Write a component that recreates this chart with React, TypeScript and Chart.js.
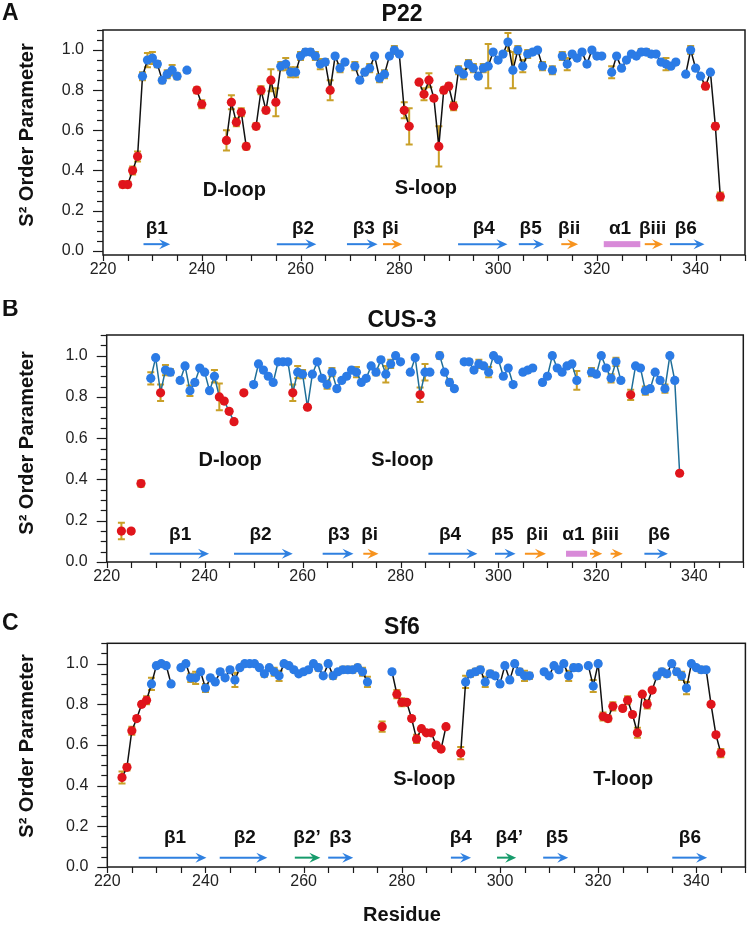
import React, { useEffect, useRef } from 'react';
import { Chart, registerables } from 'chart.js';

Chart.register(...registerables);

const FONT = '"Liberation Sans", Arial, Helvetica, sans-serif';

// ---------- shared axis data ----------
const X_MIN = 220;
const X_MAX = 350;
const X_LABEL_TICKS = [220, 240, 260, 280, 300, 320, 340];
const X_MINOR_STEP = 5;
const Y_LABEL_TICKS = [0, 0.2, 0.4, 0.6, 0.8, 1.0];
const Y_MINOR_STEP = 0.05;
const Y_MAX = 1.1;

// ---------- Panel A : P22 ----------
const P22_START = 224;
const P22_S2 = [
  0.33, 0.33, 0.40, 0.47, 0.87, 0.95, 0.96, 0.93, 0.85, 0.88, 0.90, 0.87, null, 0.90, null, 0.80, 0.73, // 224-240
  null, null, null, null, 0.55, 0.74, 0.64, 0.69, 0.52, null, // 241-250
  0.62, 0.80, 0.70, 0.85, 0.74, 0.92, 0.93, 0.89, 0.89, 0.97, // 251-260
  0.99, 0.99, 0.97, 0.93, 0.94, 0.80, 0.97, 0.91, 0.94, null, // 261-270
  0.92, 0.85, 0.89, 0.91, 0.97, 0.86, 0.88, 0.97, 1.00, 0.98, // 271-280
  0.70, 0.62, null, 0.84, 0.78, 0.85, 0.76, 0.52, 0.80, 0.82, // 281-290
  0.72, 0.90, 0.88, 0.93, 0.91, 0.87, 0.91, 0.92, 0.99, 0.95, // 291-300
  0.98, 1.04, 0.90, 1.00, 0.92, 0.98, 0.99, 1.00, 0.92, null, // 301-310
  0.90, null, 0.97, 0.93, 0.98, 0.96, 0.99, 0.93, 1.00, 0.97, // 311-320
  0.97, null, 0.89, 0.97, 0.91, 0.95, 0.98, 0.97, 0.99, 0.99, // 321-330
  0.98, 0.98, 0.94, 0.93, 0.92, 0.94, null, 0.88, 1.00, 0.91, // 331-340
  0.87, 0.82, 0.89, 0.62, 0.27, // 341-345
];
const P22_ERR = [
  0.015, 0.015, 0.02, 0.025, 0.02, 0.035, 0.03, 0.015, 0.015, 0.02, 0.025, 0.015, 0, 0.01, 0, 0.015, 0.02,
  0, 0, 0, 0, 0.05, 0.035, 0.02, 0.02, 0.015, 0,
  0.015, 0.02, 0.015, 0.055, 0.07, 0.02, 0.03, 0.025, 0.025, 0.02,
  0.015, 0.015, 0.02, 0.025, 0.015, 0.05, 0.01, 0.02, 0.01, 0,
  0.02, 0.01, 0.015, 0.02, 0.01, 0.02, 0.02, 0.01, 0.02, 0.01,
  0.04, 0.09, 0, 0.01, 0.03, 0.035, 0.01, 0.1, 0.015, 0.015,
  0.02, 0.02, 0.025, 0.02, 0.02, 0.01, 0.02, 0.11, 0.01, 0.01,
  0.01, 0.045, 0.09, 0.02, 0.03, 0.02, 0.01, 0.01, 0.02, 0,
  0.02, 0, 0.02, 0.03, 0.01, 0.01, 0.01, 0.01, 0.01, 0.01,
  0.01, 0, 0.03, 0.01, 0.01, 0.01, 0.01, 0.01, 0.015, 0.015,
  0.015, 0.01, 0.01, 0.03, 0.01, 0.01, 0, 0.01, 0.02, 0.01,
  0.01, 0.015, 0.01, 0.015, 0.02,
];
const P22_FLEX = [224, 225, 226, 227, 239, 240, 245, 246, 247, 248, 249, 251, 252, 253, 254, 255, 266,
  281, 282, 284, 285, 286, 287, 288, 289, 290, 291, 342, 344, 345];
const P22_SS = [
  ['β1', 228.2, 233.6, 'core', 230.9],
  ['β2', 255.2, 263.2, 'core', 260.5],
  ['β3', 269.4, 275.6, 'core', 272.8],
  ['βi', 276.7, 280.6, 'insert', 278.2],
  ['β4', 291.9, 301.9, 'core', 297.1],
  ['β5', 304.2, 309.3, 'core', 306.6],
  ['βii', 312.8, 316.2, 'insert', 314.4],
  ['α1', 321.4, 328.8, 'helix', 324.7],
  ['βiii', 329.7, 333.4, 'insert', 331.3],
  ['β6', 334.8, 341.8, 'core', 338.0],
];
const P22_LOOPS = [['D-loop', 246.6, 0.30], ['S-loop', 285.4, 0.31]];

// ---------- Panel B : CUS-3 ----------
const CUS3_START = 223;
const CUS3_S2 = [
  0.15, null, 0.15, null, 0.38, null, 0.89, 0.99, // 223-230
  0.82, 0.93, 0.92, null, 0.88, 0.95, 0.83, 0.87, 0.94, 0.92, // 231-240
  0.83, 0.90, 0.80, 0.78, 0.73, 0.68, null, 0.82, null, 0.86, // 241-250
  0.96, 0.93, 0.90, 0.87, 0.97, 0.97, 0.97, 0.82, 0.92, 0.91, // 251-260
  0.75, 0.91, 0.97, 0.89, 0.86, 0.92, 0.84, 0.88, 0.90, 0.93, // 261-270
  0.92, 0.87, 0.89, 0.95, 0.92, 0.98, 0.91, 0.96, 1.00, 0.97, // 271-280
  null, 0.92, 0.99, 0.81, 0.92, 0.92, null, 1.00, 0.92, 0.87, // 281-290
  0.84, null, 0.97, 0.97, 0.93, 0.96, 0.95, 0.92, 1.00, 0.98, // 291-300
  0.90, 0.94, 0.86, null, 0.92, 0.93, 0.94, null, 0.87, 0.90, // 301-310
  1.00, 0.94, 0.92, 0.95, 0.96, 0.88, null, null, 0.92, 0.91, // 311-320
  1.00, 0.94, 0.89, 0.97, 0.88, null, 0.81, 0.95, 0.94, 0.83, // 321-330
  0.84, 0.92, 0.88, 0.84, 1.00, 0.88, 0.43, // 331-337
];
const CUS3_ERR = [
  0.04, 0, 0.01, 0, 0.015, 0, 0.03, 0.01,
  0.04, 0.025, 0.015, 0, 0.01, 0.01, 0.025, 0.01, 0.01, 0.01,
  0.01, 0.03, 0.065, 0.01, 0.01, 0.01, 0, 0.01, 0, 0.01,
  0.01, 0.01, 0.01, 0.01, 0.01, 0.01, 0.01, 0.04, 0.03, 0.02,
  0.01, 0.01, 0.01, 0.01, 0.02, 0.02, 0.01, 0.01, 0.01, 0.01,
  0.025, 0.01, 0.01, 0.01, 0.015, 0.01, 0.04, 0.02, 0.01, 0.01,
  0, 0.01, 0.01, 0.035, 0.04, 0.01, 0, 0.015, 0.01, 0.015,
  0.01, 0, 0.01, 0.01, 0.01, 0.02, 0.01, 0.025, 0.01, 0.01,
  0.01, 0.01, 0.01, 0, 0.01, 0.01, 0.01, 0, 0.01, 0.01,
  0.01, 0.01, 0.01, 0.01, 0.01, 0.045, 0, 0, 0.02, 0.01,
  0.01, 0.01, 0.02, 0.02, 0.01, 0, 0.025, 0.01, 0.01, 0.02,
  0.01, 0.01, 0.01, 0.02, 0.01, 0.01, 0.01,
];
const CUS3_FLEX = [223, 225, 227, 231, 243, 244, 245, 246, 248, 258, 261, 284, 327, 337];
const CUS3_SS = [
  ['β1', 228.8, 240.9, 'core', 235.0],
  ['β2', 246.0, 258.0, 'core', 251.4],
  ['β3', 264.1, 270.4, 'core', 267.4],
  ['βi', 272.4, 275.5, 'insert', 273.7],
  ['β4', 285.7, 295.7, 'core', 290.1],
  ['β5', 299.3, 303.5, 'core', 300.8],
  ['βii', 305.4, 309.7, 'insert', 307.9],
  ['α1', 313.8, 318.1, 'helix', 315.3],
  ['βiii', 318.7, 321.2, 'insert', 321.8],
  ['', 322.9, 325.4, 'insert', 0],
  ['β6', 329.8, 334.6, 'core', 332.8],
];
const CUS3_LOOPS = [['D-loop', 245.2, 0.49], ['S-loop', 280.4, 0.49]];

// ---------- Panel C : Sf6 ----------
const SF6_START = 223;
const SF6_S2 = [
  0.44, 0.49, 0.67, 0.73, 0.80, 0.82, 0.90, 0.99, // 223-230
  1.00, 0.99, 0.90, null, 0.98, 1.00, 0.93, 0.93, 0.96, 0.88, // 231-240
  0.93, 0.91, 0.96, 0.93, 0.97, 0.92, 0.98, 1.00, 1.00, 1.00, // 241-250
  0.98, 0.95, 0.98, 0.96, 0.94, 1.00, 0.99, 0.97, 0.95, 0.96, // 251-260
  0.97, 1.00, 0.98, 0.94, 1.00, 0.94, 0.96, 0.97, 0.97, 0.97, // 261-270
  0.98, 0.96, 0.91, null, null, 0.69, null, 0.96, 0.85, 0.81, // 271-280
  0.81, 0.73, 0.63, 0.68, 0.66, 0.66, 0.60, 0.58, 0.69, null, // 281-290
  null, 0.56, 0.91, 0.95, 0.96, 0.97, 0.91, 0.95, 0.94, 0.90, // 291-300
  0.99, 0.92, 1.00, 0.96, 0.94, 0.94, null, null, 0.96, 0.94, // 301-310
  0.99, 0.97, 1.00, 0.94, 0.98, 0.98, null, 0.99, 0.89, 1.00, // 311-320
  0.74, 0.73, 0.79, null, 0.78, 0.82, 0.75, 0.66, 0.85, 0.80, // 321-330
  0.87, 0.94, 0.96, 0.95, 1.00, 0.96, 0.94, 0.88, 1.00, 0.98, // 331-340
  0.97, 0.97, 0.80, 0.65, 0.56, // 341-345
];
const SF6_ERR = [
  0.03, 0.015, 0.02, 0.01, 0.01, 0.02, 0.03, 0.01,
  0.01, 0.01, 0.01, 0, 0.01, 0.01, 0.02, 0.03, 0.01, 0.02,
  0.01, 0.01, 0.01, 0.01, 0.01, 0.035, 0.01, 0.01, 0.01, 0.01,
  0.01, 0.015, 0.01, 0.02, 0.025, 0.01, 0.01, 0.01, 0.01, 0.01,
  0.01, 0.01, 0.015, 0.01, 0.01, 0.015, 0.01, 0.015, 0.015, 0.015,
  0.015, 0.02, 0.025, 0, 0, 0.025, 0, 0.01, 0.02, 0.02,
  0.01, 0.01, 0.02, 0.01, 0.01, 0.01, 0.01, 0.01, 0.01, 0,
  0, 0.03, 0.03, 0.015, 0.015, 0.015, 0.025, 0.015, 0.01, 0.01,
  0.01, 0.01, 0.01, 0.015, 0.025, 0.015, 0, 0, 0.01, 0.01,
  0.01, 0.01, 0.01, 0.025, 0.015, 0.01, 0, 0.01, 0.03, 0.01,
  0.02, 0.015, 0.02, 0, 0.01, 0.02, 0.01, 0.025, 0.01, 0.02,
  0.01, 0.015, 0.015, 0.015, 0.01, 0.015, 0.02, 0.03, 0.01, 0.01,
  0.015, 0.01, 0.01, 0.01, 0.02,
];
const SF6_FLEX = [223, 224, 225, 226, 227, 228, 276, 279, 280, 281, 282, 283, 284, 285, 286, 287, 288, 289, 292,
  321, 322, 323, 325, 326, 327, 328, 329, 330, 331, 343, 344, 345];
const SF6_SS = [
  ['β1', 226.4, 240.2, 'core', 233.8],
  ['β2', 242.9, 252.6, 'core', 248.0],
  ['β2’', 258.2, 263.4, 'extra', 260.7],
  ['β3', 265.0, 270.1, 'core', 267.5],
  ['β4', 290.0, 294.1, 'core', 292.0],
  ['β4’', 299.4, 303.3, 'extra', 301.9],
  ['β5', 308.8, 313.9, 'core', 311.6],
  ['β6', 335.1, 342.2, 'core', 338.7],
];
const SF6_LOOPS = [['S-loop', 284.6, 0.43], ['T-loop', 325.1, 0.43]];

// ---------- styles ----------
const BLUE_PT = '#2b7be6';
const RED_PT = '#e0151c';
const ERR_COLOR = '#c9a028';
const SS_COLORS = { core: '#2f80e0', insert: '#f7931e', extra: '#169b6b', helix: '#d88ad8' };
const AXIS_COLOR = '#1a1a1a';

const PANELS = [
  {
    key: 'A', title: 'P22', top: 0, height: 300,
    area: { left: 103, right: 745, top: 30, bottom: 255 }, yMin: -0.021,
    start: P22_START, values: P22_S2, errs: P22_ERR, flex: P22_FLEX, ss: P22_SS, loops: P22_LOOPS,
    lineColor: '#111111', titleY: 14.5, letterY: 14, yTitleY: 135, ssLabelY: 0.11, ssArrowY: 0.033,
  },
  {
    key: 'B', title: 'CUS-3', top: 300, height: 310,
    area: { left: 106.7, right: 743.3, top: 35, bottom: 262 }, yMin: 0,
    start: CUS3_START, values: CUS3_S2, errs: CUS3_ERR, flex: CUS3_FLEX, ss: CUS3_SS, loops: CUS3_LOOPS,
    lineColor: '#1f6e98', titleY: 20.5, letterY: 10, yTitleY: 143, ssLabelY: 0.13, ssArrowY: 0.04,
  },
  {
    key: 'C', title: 'Sf6', top: 610, height: 317,
    area: { left: 107.3, right: 746.7, top: 33.3, bottom: 257 }, yMin: 0,
    start: SF6_START, values: SF6_S2, errs: SF6_ERR, flex: SF6_FLEX, ss: SF6_SS, loops: SF6_LOOPS,
    lineColor: '#111111', titleY: 17.5, letterY: 13.5, yTitleY: 136, ssLabelY: 0.145, ssArrowY: 0.046,
    xTitle: 'Residue', xTitleY: 305,
  },
];

const X_AXIS_H = 30;
const CENTER_X = 402;

function drawArrow(ctx, x1, x2, y, color) {
  ctx.strokeStyle = color;
  ctx.fillStyle = color;
  ctx.lineWidth = 2;
  ctx.beginPath();
  ctx.moveTo(x1, y);
  ctx.lineTo(x2 - 5, y);
  ctx.stroke();
  ctx.beginPath();
  ctx.moveTo(x2, y);
  ctx.lineTo(x2 - 11, y - 5);
  ctx.lineTo(x2 - 7, y);
  ctx.lineTo(x2 - 11, y + 5);
  ctx.closePath();
  ctx.fill();
}

function makeDecor(p) {
  return {
    id: 'decor' + p.key,
    beforeDatasetsDraw(chart) {
      const { ctx } = chart;
      const x = chart.scales.x;
      const y = chart.scales.y;
      ctx.save();
      ctx.strokeStyle = ERR_COLOR;
      ctx.lineWidth = 2;
      p.values.forEach((v, i) => {
        const e = p.errs[i];
        if (v == null || !e) return;
        const px = x.getPixelForValue(p.start + i);
        const y1 = y.getPixelForValue(v - e);
        const y2 = y.getPixelForValue(v + e);
        ctx.beginPath();
        ctx.moveTo(px, y1);
        ctx.lineTo(px, y2);
        ctx.moveTo(px - 3.5, y1);
        ctx.lineTo(px + 3.5, y1);
        ctx.moveTo(px - 3.5, y2);
        ctx.lineTo(px + 3.5, y2);
        ctx.stroke();
      });
      ctx.restore();
    },
    afterDraw(chart) {
      const { ctx, chartArea: a } = chart;
      const x = chart.scales.x;
      const y = chart.scales.y;
      ctx.save();
      // frame
      ctx.strokeStyle = AXIS_COLOR;
      ctx.lineWidth = 1.5;
      ctx.strokeRect(a.left, a.top, a.right - a.left, a.bottom - a.top);
      // y ticks
      ctx.lineWidth = 1.2;
      for (let v = 0; v <= Y_MAX + 1e-9; v += Y_MINOR_STEP) {
        const py = Math.round(y.getPixelForValue(v)) + 0.5;
        const major = Y_LABEL_TICKS.some((t) => Math.abs(t - v) < 1e-6);
        ctx.beginPath();
        ctx.moveTo(a.left - (major ? 10 : 6), py);
        ctx.lineTo(a.left, py);
        ctx.stroke();
      }
      // x ticks
      for (let v = X_MIN; v <= X_MAX; v += X_MINOR_STEP) {
        const px = Math.round(x.getPixelForValue(v)) + 0.5;
        ctx.beginPath();
        ctx.moveTo(px, a.bottom);
        ctx.lineTo(px, a.bottom + 6);
        ctx.stroke();
      }
      // secondary structure
      const arrowY = y.getPixelForValue(p.ssArrowY);
      const labelY = y.getPixelForValue(p.ssLabelY);
      ctx.font = `bold 19px ${FONT}`;
      ctx.textAlign = 'center';
      ctx.textBaseline = 'middle';
      p.ss.forEach(([label, s, e, kind, lx]) => {
        const x1 = x.getPixelForValue(s);
        const x2 = x.getPixelForValue(e);
        if (kind === 'helix') {
          ctx.fillStyle = SS_COLORS.helix;
          ctx.fillRect(x1, arrowY - 3, x2 - x1, 6);
        } else {
          drawArrow(ctx, x1, x2, arrowY, SS_COLORS[kind]);
        }
        if (label) {
          ctx.fillStyle = '#111';
          ctx.fillText(label, x.getPixelForValue(lx), labelY);
        }
      });
      // loop labels
      ctx.font = `bold 20px ${FONT}`;
      ctx.fillStyle = '#111';
      p.loops.forEach(([label, lx, ly]) => {
        ctx.fillText(label, x.getPixelForValue(lx), y.getPixelForValue(ly));
      });
      // panel title
      ctx.font = `bold 23px ${FONT}`;
      ctx.fillText(p.title, CENTER_X, p.titleY);
      // panel letter
      ctx.textAlign = 'left';
      ctx.font = `bold 23px ${FONT}`;
      ctx.fillText(p.key, 2, p.letterY);
      // y title
      ctx.save();
      ctx.translate(27, p.yTitleY);
      ctx.rotate(-Math.PI / 2);
      ctx.textAlign = 'center';
      ctx.font = `bold 20px ${FONT}`;
      ctx.fillText('S² Order Parameter', 0, 0);
      ctx.restore();
      // x title
      if (p.xTitle) {
        ctx.textAlign = 'center';
        ctx.font = `bold 20px ${FONT}`;
        ctx.fillText(p.xTitle, CENTER_X, p.xTitleY);
      }
      ctx.restore();
    },
  };
}

function Panel({ p }) {
  const ref = useRef(null);
  useEffect(() => {
    const data = p.values.map((v, i) => ({ x: p.start + i, y: v }));
    const colors = p.values.map((v, i) => (p.flex.includes(p.start + i) ? RED_PT : BLUE_PT));
    const chart = new Chart(ref.current, {
      type: 'line',
      data: {
        datasets: [
          {
            data,
            borderColor: p.lineColor,
            borderWidth: 1.5,
            pointRadius: 4.6,
            pointBorderWidth: 0,
            pointBackgroundColor: colors,
            pointBorderColor: colors,
            spanGaps: false,
            tension: 0,
            clip: false,
          },
        ],
      },
      options: {
        animation: false,
        responsive: false,
        maintainAspectRatio: false,
        events: [],
        layout: {
          padding: {
            left: 0,
            right: 750 - p.area.right,
            top: p.area.top,
            bottom: p.height - p.area.bottom - X_AXIS_H,
          },
        },
        plugins: { legend: { display: false }, tooltip: { enabled: false }, title: { display: false } },
        scales: {
          x: {
            type: 'linear',
            min: X_MIN,
            max: X_MAX,
            afterFit: (s) => { s.height = X_AXIS_H; },
            afterBuildTicks: (s) => { s.ticks = X_LABEL_TICKS.map((v) => ({ value: v })); },
            grid: { display: false, drawTicks: false },
            border: { display: false },
            ticks: {
              autoSkip: false,
              maxRotation: 0,
              padding: 5,
              color: '#222',
              font: { family: FONT, size: 16 },
              callback: (v) => String(v),
            },
          },
          y: {
            type: 'linear',
            min: p.yMin,
            max: Y_MAX,
            afterFit: (s) => { s.width = p.area.left; },
            afterBuildTicks: (s) => { s.ticks = Y_LABEL_TICKS.map((v) => ({ value: v })); },
            grid: { display: false, drawTicks: false },
            border: { display: false },
            ticks: {
              autoSkip: false,
              padding: 19,
              color: '#222',
              font: { family: FONT, size: 16 },
              callback: (v) => Number(v).toFixed(1),
            },
          },
        },
      },
      plugins: [makeDecor(p)],
    });
    return () => chart.destroy();
  }, []);
  return (
    <canvas
      ref={ref}
      width={750}
      height={p.height}
      style={{ position: 'absolute', left: 0, top: p.top, width: 750, height: p.height }}
    />
  );
}

export default function App() {
  return (
    <div style={{ position: 'absolute', left: 0, top: 0, width: 750, height: 927, background: '#ffffff' }}>
      {PANELS.map((p) => (
        <Panel key={p.key} p={p} />
      ))}
    </div>
  );
}
